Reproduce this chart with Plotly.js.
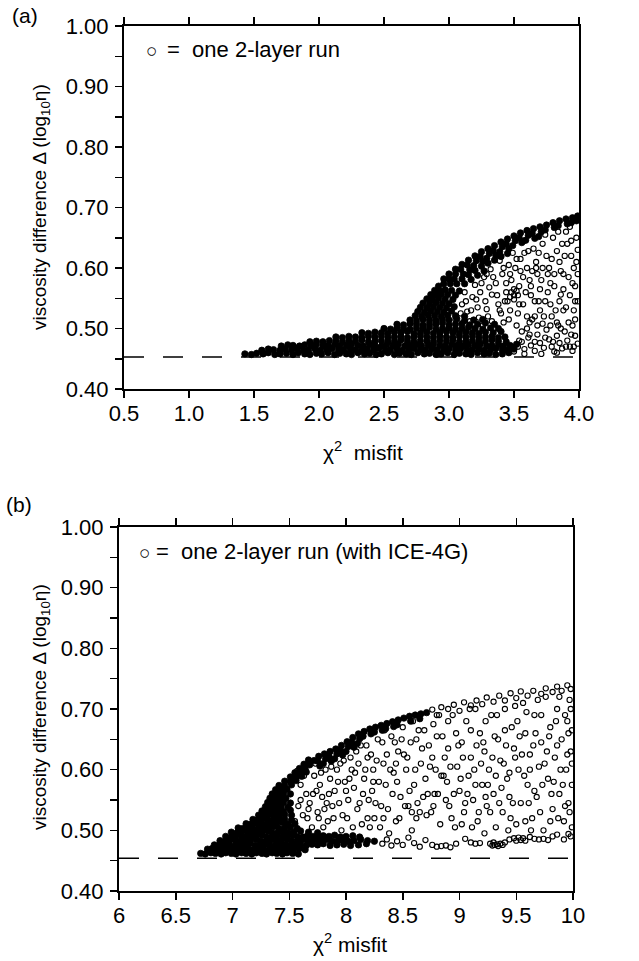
<!DOCTYPE html>
<html>
<head>
<meta charset="utf-8">
<script src="https://cdn.plot.ly/plotly-3.0.1.min.js"></script>
<style>
html,body{margin:0;padding:0;background:#fff;}
#chart{width:639px;height:961px;}
</style>
</head>
<body>
<div id="chart"></div>
<script>
// ---------------- DATA ----------------
// Panel (a): chi^2 misfit vs viscosity difference, one 2-layer run per circle
// densely packed runs (dark mass)
const aDense = [
[1.43,.458],[1.48,.457],[1.52,.459],[1.57,.458],[1.61,.460],[1.66,.457],[1.70,.458],[1.75,.459],[1.80,.457],[1.84,.460],[1.89,.458],[1.93,.457],[1.98,.459],[2.02,.458],[2.07,.460],[2.12,.457],[2.16,.459],[2.21,.458],[2.25,.457],[2.30,.460],[2.35,.458],[2.39,.459],[2.44,.457],[2.48,.458],[2.53,.460],[2.58,.457],[2.62,.459],[2.67,.458],[2.71,.457],[2.76,.460],[2.81,.458],[2.85,.459],[2.90,.457],[2.94,.458],[2.99,.460],[3.04,.457],[3.08,.459],[3.13,.458],[3.17,.457],[3.22,.460],[3.27,.458],[3.31,.459],[3.36,.457],[3.41,.458],[3.46,.460],
[1.56,.464],[1.61,.466],[1.65,.465],[1.70,.464],[1.74,.466],[1.79,.465],[1.83,.467],[1.88,.464],[1.92,.465],[1.97,.466],[2.01,.464],[2.06,.465],[2.10,.467],[2.15,.465],[2.19,.464],[2.24,.466],[2.28,.465],[2.33,.464],[2.37,.466],[2.42,.465],[2.46,.467],[2.51,.464],[2.55,.465],[2.60,.466],[2.64,.464],[2.69,.465],[2.73,.467],[2.78,.465],[2.82,.464],[2.87,.466],[2.91,.465],[2.96,.464],[3.00,.466],[3.05,.465],[3.09,.467],[3.14,.464],[3.18,.465],[3.23,.466],[3.27,.464],[3.32,.465],[3.36,.467],[3.41,.465],[3.45,.464],[3.50,.466],
[1.71,.471],[1.76,.473],[1.80,.472],[1.85,.471],[1.89,.473],[1.94,.472],[1.98,.474],[2.03,.471],[2.07,.472],[2.12,.473],[2.16,.471],[2.21,.472],[2.25,.474],[2.30,.472],[2.34,.471],[2.39,.473],[2.43,.472],[2.48,.471],[2.52,.473],[2.57,.472],[2.61,.474],[2.66,.471],[2.70,.472],[2.75,.473],[2.79,.471],[2.84,.472],[2.88,.474],[2.93,.472],[2.97,.471],[3.02,.473],[3.06,.472],[3.11,.471],[3.15,.473],[3.20,.472],[3.24,.474],[3.29,.471],[3.33,.472],[3.38,.473],[3.42,.471],[3.47,.472],[3.52,.474],
[1.93,.478],[1.98,.479],[2.03,.478],[2.08,.480],[2.13,.479],[2.18,.478],[2.23,.480],[2.28,.479],[2.33,.481],[2.38,.478],[2.43,.479],[2.48,.480],[2.53,.478],[2.58,.479],[2.63,.481],[2.68,.479],[2.73,.478],[2.78,.480],[2.83,.479],[2.88,.478],[2.93,.480],[2.98,.479],[3.03,.481],[3.08,.478],[3.13,.479],[3.18,.480],[3.23,.478],[3.28,.479],[3.33,.481],[3.38,.479],[3.44,.478],
[2.13,.486],[2.18,.485],[2.23,.487],[2.28,.486],[2.33,.485],[2.38,.487],[2.43,.486],[2.48,.488],[2.53,.485],[2.58,.486],[2.63,.487],[2.68,.485],[2.73,.486],[2.78,.488],[2.83,.486],[2.88,.485],[2.93,.487],[2.98,.486],[3.03,.485],[3.08,.487],[3.13,.486],[3.18,.488],[3.23,.485],[3.28,.486],[3.33,.487],[3.38,.485],[3.43,.486],
[2.33,.493],[2.38,.492],[2.43,.494],[2.48,.493],[2.53,.492],[2.58,.494],[2.63,.493],[2.68,.495],[2.73,.492],[2.78,.493],[2.83,.494],[2.88,.492],[2.93,.493],[2.98,.495],[3.03,.493],[3.08,.492],[3.13,.494],[3.18,.493],[3.23,.492],[3.28,.494],[3.34,.493],[3.40,.495],
[2.50,.500],[2.55,.499],[2.60,.501],[2.65,.500],[2.70,.499],[2.75,.501],[2.80,.500],[2.85,.502],[2.90,.499],[2.95,.500],[3.00,.501],[3.05,.499],[3.10,.500],[3.15,.502],[3.20,.500],[3.26,.499],[3.32,.501],[3.38,.500],
[2.60,.507],[2.65,.506],[2.70,.508],[2.75,.507],[2.80,.506],[2.85,.508],[2.90,.507],[2.95,.509],[3.00,.506],[3.05,.507],[3.10,.508],[3.16,.506],[3.22,.507],[3.28,.509],[3.35,.507],
[2.70,.514],[2.75,.513],[2.80,.515],[2.85,.514],[2.90,.513],[2.95,.515],[3.00,.514],[3.06,.516],[3.12,.513],[3.19,.514],[3.26,.515],
[2.74,.521],[2.79,.520],[2.84,.522],[2.89,.521],[2.94,.520],[2.99,.522],[3.05,.521],[3.12,.520],
[2.76,.528],[2.81,.527],[2.86,.529],[2.91,.528],[2.96,.527],[3.02,.529],
[2.78,.535],[2.83,.534],[2.88,.536],[2.93,.535],[2.98,.534],[3.04,.536],
[2.80,.542],[2.85,.541],[2.90,.543],[2.95,.542],[3.00,.541],
[2.83,.549],[2.87,.548],[2.92,.550],[2.97,.549],[3.03,.548],
[2.86,.556],[2.90,.555],[2.94,.557],[2.99,.556],[3.05,.555],
[2.89,.563],[2.93,.562],[2.97,.564],[3.02,.563],[3.08,.562],
[2.92,.570],[2.96,.582],[2.96,.574],[3.00,.590],[3.00,.582],[3.01,.574],
[3.05,.598],[3.05,.590],[3.04,.582],[3.06,.574],
[3.10,.606],[3.09,.598],[3.11,.590],[3.10,.582],[3.12,.574],
[3.15,.613],[3.14,.605],[3.16,.597],[3.15,.589],[3.17,.581],
[3.20,.620],[3.21,.612],[3.19,.604],[3.20,.596],[3.22,.588],
[3.25,.627],[3.24,.619],[3.26,.611],[3.25,.603],[3.27,.595],
[3.30,.632],[3.31,.624],[3.29,.616],[3.30,.608],
[3.35,.637],[3.34,.629],[3.36,.621],[3.35,.613],
[3.40,.643],[3.41,.635],[3.39,.627],[3.40,.619],
[3.45,.648],[3.44,.640],[3.46,.632],[3.45,.624],
[3.50,.653],[3.51,.645],[3.49,.637],
[3.55,.658],[3.54,.650],[3.56,.642],
[3.60,.662],[3.61,.654],[3.59,.646],
[3.65,.665],[3.64,.657],[3.66,.649],
[3.70,.668],[3.71,.660],[3.69,.652],
[3.75,.671],[3.74,.663],
[3.80,.675],[3.81,.667],
[3.85,.678],[3.84,.670],
[3.90,.681],[3.91,.673],
[3.95,.683],[3.94,.675],
[3.99,.686],[3.98,.678]
];
// loosely scattered runs
const aSparse = [
[3.10,.540],[3.14,.528],[3.18,.552],[3.22,.535],[3.16,.512],[3.24,.560],[3.28,.545],[3.20,.572],[3.30,.520],[3.33,.556],[3.27,.585],[3.36,.575],[3.38,.540],[3.32,.598],[3.41,.590],[3.44,.560],[3.40,.525],[3.46,.605],[3.48,.580],[3.50,.548],[3.52,.615],[3.47,.530],[3.55,.595],[3.54,.570],[3.58,.625],[3.60,.600],[3.57,.540],[3.62,.580],[3.63,.555],[3.65,.632],[3.67,.610],[3.68,.590],[3.70,.565],[3.66,.520],[3.72,.640],[3.74,.545],[3.75,.620],[3.77,.600],[3.78,.575],[3.80,.650],[3.82,.530],[3.83,.628],[3.85,.610],[3.86,.556],[3.88,.590],[3.90,.660],[3.91,.640],[3.92,.510],[3.94,.620],[3.95,.575],[3.96,.600],[3.97,.545],[3.98,.650],[3.99,.630],[3.93,.668],
[3.50,.462],[3.53,.470],[3.56,.478],[3.58,.466],[3.61,.485],[3.63,.472],[3.66,.463],[3.68,.490],[3.70,.476],[3.73,.468],[3.75,.498],[3.77,.482],[3.79,.470],[3.81,.462],[3.83,.488],[3.85,.476],[3.87,.467],[3.89,.495],[3.91,.480],[3.93,.470],[3.95,.463],[3.97,.488],[3.99,.475],[3.60,.500],[3.72,.508],[3.84,.505],[3.64,.515],[3.56,.495],[3.52,.505],[3.79,.520],[3.88,.530],[3.70,.530],[3.97,.515],
[3.12,.560],[3.26,.505],[3.35,.500],[3.42,.510],[3.45,.545],[3.53,.525],[3.59,.560],[3.62,.510],[3.69,.545],[3.76,.560],[3.81,.590],[3.87,.640],[3.72,.600],[3.64,.595],[3.58,.645],[3.49,.625],[3.39,.612],[3.31,.568],[3.44,.575],[3.53,.555],[3.85,.545],[3.93,.555],[3.99,.590],[3.96,.530],[3.78,.505],[3.68,.505],
[3.05,.515],[3.09,.525],[3.13,.545],[3.17,.530],[3.21,.548],[3.23,.518],[3.25,.575],[3.29,.532],[3.29,.590],[3.33,.512],[3.34,.585],[3.37,.555],[3.39,.530],[3.42,.600],[3.43,.545],[3.46,.515],[3.47,.590],[3.50,.565],[3.51,.600],[3.54,.540],[3.55,.615],[3.57,.585],[3.60,.520],[3.61,.628],[3.63,.570],[3.66,.545],[3.67,.600],[3.69,.625],[3.71,.580],[3.73,.520],[3.74,.655],[3.76,.590],[3.78,.540],[3.79,.615],[3.81,.570],[3.83,.510],[3.84,.660],[3.86,.595],[3.88,.565],[3.89,.620],[3.90,.535],[3.92,.585],[3.94,.645],[3.95,.505],[3.97,.570],[3.98,.610],[3.99,.545],[3.62,.490],[3.74,.485],[3.86,.500],[3.94,.490],[3.54,.480],[3.66,.478],[3.80,.478],[3.90,.470],[3.48,.470],[3.58,.458],[3.71,.458],[3.83,.460],[3.96,.470],
[3.48,.560],[3.50,.555],[3.52,.562],[3.47,.552]
];
const aTicksX = [0.5, 1.0, 1.5, 2.0, 2.5, 3.0, 3.5, 4.0];
const aTickTextX = ['0.5','1.0','1.5','2.0','2.5','3.0','3.5','4.0'];

// Panel (b): chi^2 misfit vs viscosity difference, with ICE-4G
const bDense = [
[6.72,.462],[6.76,.461],[6.81,.463],[6.85,.462],[6.90,.461],[6.94,.463],[6.99,.462],[7.03,.461],[7.08,.463],[7.12,.462],[7.17,.461],[7.21,.463],[7.26,.462],[7.30,.461],[7.35,.463],[7.39,.462],[7.44,.461],[7.48,.463],[7.53,.462],[7.58,.461],
[6.78,.469],[6.82,.470],[6.87,.468],[6.91,.469],[6.96,.470],[7.00,.468],[7.05,.469],[7.09,.471],[7.14,.469],[7.18,.468],[7.23,.470],[7.27,.469],[7.32,.468],[7.36,.470],[7.41,.469],[7.45,.471],[7.50,.468],[7.54,.469],[7.59,.470],[7.64,.468],
[6.84,.476],[6.88,.475],[6.93,.477],[6.97,.476],[7.02,.475],[7.06,.477],[7.11,.476],[7.15,.478],[7.20,.475],[7.24,.476],[7.29,.477],[7.33,.475],[7.38,.476],[7.42,.478],[7.47,.476],[7.51,.475],[7.56,.477],[7.60,.476],[7.65,.475],[7.70,.477],[7.75,.476],[7.80,.478],[7.86,.475],[7.92,.476],[7.98,.477],[8.04,.475],[8.11,.476],[8.18,.478],
[6.89,.483],[6.94,.482],[6.98,.484],[7.03,.483],[7.07,.482],[7.12,.484],[7.16,.483],[7.21,.485],[7.25,.482],[7.30,.483],[7.34,.484],[7.39,.482],[7.43,.483],[7.48,.485],[7.52,.483],[7.57,.482],[7.61,.484],[7.66,.483],[7.70,.482],[7.75,.484],[7.79,.483],[7.84,.485],[7.88,.482],[7.93,.483],[7.97,.484],[8.02,.482],[8.07,.483],[8.13,.485],[8.19,.483],[8.25,.482],
[6.94,.490],[6.99,.489],[7.03,.491],[7.08,.490],[7.12,.489],[7.17,.491],[7.21,.490],[7.26,.492],[7.30,.489],[7.35,.490],[7.39,.491],[7.44,.489],[7.48,.490],[7.53,.492],[7.57,.490],[7.62,.489],[7.66,.491],[7.71,.490],[7.75,.489],[7.80,.491],[7.85,.490],[7.90,.492],[7.95,.489],[8.00,.490],[8.06,.491],[8.12,.489],
[6.99,.497],[7.04,.496],[7.08,.498],[7.13,.497],[7.17,.496],[7.22,.498],[7.26,.497],[7.31,.499],[7.35,.496],[7.40,.497],[7.44,.498],[7.49,.496],[7.54,.497],[7.60,.499],[7.67,.497],[7.75,.496],
[7.05,.504],[7.09,.503],[7.14,.505],[7.18,.504],[7.23,.503],[7.27,.505],[7.32,.504],[7.36,.506],[7.41,.503],[7.46,.504],[7.51,.505],[7.57,.503],
[7.12,.511],[7.16,.510],[7.21,.512],[7.25,.511],[7.30,.510],[7.34,.512],[7.39,.511],[7.44,.513],[7.49,.510],[7.55,.511],
[7.18,.518],[7.22,.517],[7.27,.519],[7.31,.518],[7.36,.517],[7.41,.519],[7.46,.518],[7.52,.517],
[7.23,.525],[7.27,.524],[7.32,.526],[7.36,.525],[7.41,.524],[7.46,.526],[7.52,.525],
[7.26,.532],[7.30,.531],[7.35,.533],[7.40,.532],[7.45,.531],[7.51,.533],
[7.29,.539],[7.33,.538],[7.38,.540],[7.43,.539],[7.49,.538],
[7.31,.546],[7.35,.545],[7.40,.547],[7.45,.546],[7.51,.545],
[7.33,.553],[7.37,.552],[7.42,.554],[7.47,.553],
[7.35,.560],[7.40,.559],[7.45,.561],[7.51,.560],
[7.38,.567],[7.43,.566],[7.48,.568],
[7.41,.574],[7.46,.573],[7.52,.575],
[7.46,.581],[7.51,.580],[7.56,.582],
[7.51,.588],[7.56,.587],[7.61,.589],
[7.55,.595],[7.60,.594],[7.65,.596],
[7.59,.602],[7.64,.601],
[7.63,.609],[7.68,.608],
[7.67,.616],[7.72,.615],
[7.76,.622],[7.75,.614],[7.77,.606],
[7.81,.626],[7.82,.618],[7.80,.610],
[7.86,.630],[7.85,.622],[7.87,.614],
[7.91,.634],[7.92,.626],[7.90,.618],
[7.96,.640],[7.95,.632],[7.97,.624],
[8.01,.646],[8.02,.638],[8.00,.630],
[8.06,.653],[8.05,.645],[8.07,.637],
[8.11,.659],[8.12,.651],[8.10,.643],
[8.16,.663],[8.15,.655],
[8.21,.667],[8.22,.659],
[8.26,.670],[8.25,.662],
[8.31,.673],[8.32,.665],
[8.36,.676],[8.35,.668],
[8.41,.679],[8.42,.671],
[8.46,.682],[8.45,.674],
[8.51,.685],
[8.56,.688],[8.57,.680],
[8.61,.690],
[8.66,.692],[8.65,.684],
[8.71,.694]
];
const bSparse = [
[7.55,.515],[7.58,.540],[7.62,.525],[7.65,.560],[7.68,.545],[7.60,.575],[7.72,.590],[7.70,.505],
[7.75,.530],[7.77,.575],[7.79,.555],[7.82,.600],[7.84,.515],[7.86,.585],[7.88,.540],[7.90,.565],[7.80,.505],
[7.95,.610],[7.97,.525],[7.99,.580],[8.02,.550],[8.04,.620],[8.06,.505],[8.08,.595],[8.10,.535],[8.00,.565],
[8.13,.640],[8.15,.560],[8.17,.600],[8.19,.520],[8.22,.625],[8.24,.580],[8.26,.545],[8.28,.650],[8.30,.505],[8.21,.505],
[8.33,.610],[8.35,.575],[8.37,.535],[8.40,.655],[8.42,.595],[8.44,.515],[8.46,.630],[8.48,.555],[8.50,.670],[8.38,.495],
[8.53,.600],[8.55,.540],[8.57,.645],[8.60,.575],[8.62,.520],[8.64,.665],[8.66,.610],[8.68,.555],[8.70,.585],[8.58,.500],
[8.73,.640],[8.75,.530],[8.77,.675],[8.79,.600],[8.81,.560],[8.83,.510],[8.85,.655],[8.87,.620],[8.89,.580],[8.91,.540],
[8.94,.690],[8.96,.505],[8.98,.605],[9.00,.565],[9.02,.645],[9.04,.530],[9.06,.680],[9.08,.590],[9.10,.620],[9.12,.550],
[9.14,.700],[9.16,.515],[9.18,.660],[9.20,.575],[9.22,.630],[9.24,.540],[9.26,.600],[9.28,.690],[9.30,.560],[9.32,.505],
[9.34,.650],[9.36,.615],[9.38,.530],[9.40,.700],[9.42,.585],[9.44,.555],[9.46,.670],[9.48,.635],[9.50,.510],[9.52,.600],
[9.54,.545],[9.56,.710],[9.58,.660],[9.60,.575],[9.62,.625],[9.64,.520],[9.66,.690],[9.68,.555],[9.70,.605],[9.72,.645],
[9.74,.500],[9.76,.720],[9.78,.585],[9.80,.670],[9.82,.535],[9.84,.620],[9.86,.700],[9.88,.560],[9.90,.650],[9.92,.515],
[9.94,.600],[9.95,.680],[9.96,.545],[9.97,.715],[9.98,.630],[9.99,.575],[9.99,.505],
[7.57,.598],[7.66,.520],[7.74,.565],[7.83,.545],[7.92,.600],[7.96,.500],[8.03,.585],[8.11,.610],[8.14,.510],[8.18,.640],[8.23,.565],[8.27,.615],[8.31,.540],[8.34,.665],[8.39,.600],[8.43,.645],[8.47,.520],[8.51,.625],[8.56,.565],[8.59,.680],[8.63,.545],[8.67,.635],[8.71,.525],[8.74,.605],[8.78,.560],[8.82,.690],[8.86,.590],[8.90,.635],[8.93,.520],[8.97,.660],[9.01,.585],[9.05,.545],[9.09,.700],[9.13,.600],[9.17,.530],[9.21,.645],[9.25,.575],[9.29,.620],[9.33,.690],[9.37,.570],[9.41,.640],[9.45,.520],[9.49,.705],[9.53,.655],[9.57,.590],[9.61,.545],[9.65,.640],[9.69,.715],[9.73,.575],[9.77,.630],[9.81,.560],[9.85,.680],[9.89,.600],[9.93,.540],[9.96,.660],[9.98,.700],[9.87,.520],[9.63,.500],[9.43,.500],[9.11,.505],
[7.60,.550],[7.63,.590],[7.67,.535],[7.71,.560],[7.73,.610],[7.76,.520],[7.78,.595],[7.81,.535],[7.85,.560],[7.87,.605],[7.89,.520],[7.93,.580],[7.94,.545],[7.98,.615],[8.01,.520],[8.05,.600],[8.07,.570],[8.09,.630],[8.12,.545],[8.16,.585],[8.19,.620],[8.20,.550],[8.24,.600],[8.25,.520],[8.29,.580],[8.32,.645],[8.33,.520],[8.36,.625],[8.41,.560],[8.44,.610],[8.45,.580],[8.49,.650],[8.52,.540],[8.54,.620],[8.58,.530],[8.61,.600],[8.62,.650],[8.65,.530],[8.69,.665],[8.72,.560],[8.76,.620],[8.77,.540],[8.80,.655],[8.84,.590],[8.88,.550],[8.90,.680],[8.92,.605],[8.95,.560],[8.99,.640],[9.02,.510],[9.03,.620],[9.07,.560],[9.10,.665],[9.14,.575],[9.15,.640],[9.19,.610],[9.23,.555],[9.23,.680],[9.27,.530],[9.31,.655],[9.32,.590],[9.35,.545],[9.39,.610],[9.40,.665],[9.44,.595],[9.47,.545],[9.49,.620],[9.51,.680],[9.55,.625],[9.58,.515],[9.59,.695],[9.62,.600],[9.66,.565],[9.67,.660],[9.71,.530],[9.72,.690],[9.75,.610],[9.79,.655],[9.80,.515],[9.83,.580],[9.86,.640],[9.88,.720],[9.91,.575],[9.93,.690],[9.95,.625],[9.97,.530],[9.99,.665],[9.99,.610],
[8.76,.699],[8.80,.690],[8.84,.703],[8.90,.700],[8.95,.707],[9.00,.697],[9.04,.711],[9.10,.706],[9.15,.714],[9.20,.708],[9.24,.719],[9.30,.712],[9.35,.722],[9.40,.714],[9.45,.726],[9.50,.718],[9.54,.729],[9.60,.722],[9.65,.730],[9.72,.725],[9.76,.734],[9.82,.728],[9.86,.737],[9.90,.730],[9.95,.739],[9.98,.733],
[8.32,.478],[8.36,.485],[8.40,.475],[8.45,.482],[8.50,.476],[8.55,.488],[8.60,.479],[8.65,.473],[8.70,.484],[8.76,.476],[8.80,.473],[8.84,.474],[8.88,.475],[8.92,.472],[8.97,.478],[9.05,.486],[9.10,.480],[9.14,.478],[9.18,.479],[9.22,.495],[9.27,.478],[9.29,.475],[9.30,.480],[9.31,.476],[9.33,.477],[9.34,.474],[9.36,.478],[9.38,.476],[9.40,.480],[9.44,.485],[9.48,.487],[9.50,.483],[9.52,.488],[9.54,.484],[9.56,.487],[9.58,.483],[9.62,.489],[9.66,.486],[9.70,.485],[9.74,.486],[9.78,.484],[9.82,.490],[9.86,.493],[9.92,.485],[9.96,.494],[9.98,.490]
];
const bTicksX = [6, 6.5, 7, 7.5, 8, 8.5, 9, 9.5, 10];
const bTickTextX = ['6','6.5','7','7.5','8','8.5','9','9.5','10'];

// shared y axis ticks and the dashed reference level
const yTicks = [0.40, 0.50, 0.60, 0.70, 0.80, 0.90, 1.00];
const yTickText = ['0.40','0.50','0.60','0.70','0.80','0.90','1.00'];
const yMinorTicks = [0.45, 0.55, 0.65, 0.75, 0.85, 0.95];
const aDashLevel = 0.453;
const bDashLevel = 0.454;
const aRangeX = [0.5, 4.0];
const bRangeX = [6, 10];
const rangeY = [0.4, 1.0];

// ---------------- PLOT ----------------
const W = 639, H = 961;
const FONT = '"Liberation Sans", Arial, Helvetica, sans-serif';
const px = v => v / W;
const py = v => 1 - v / H;

function pts(arr, i) { return arr.map(p => p[i]); }

// overlapping circles in the crowded parts merge into a dark mass
const denseMarker = {symbol: 'circle', size: 6.4, color: '#000', line: {width: 0.8, color: '#000'}};
const sparseMarker = {symbol: 'circle-open', size: 5.2, color: '#000', line: {width: 1.1, color: '#000'}};

const traces = [
  {type: 'scatter', mode: 'markers', x: pts(aDense,0), y: pts(aDense,1), xaxis: 'x', yaxis: 'y', marker: denseMarker, hoverinfo: 'skip', showlegend: false},
  {type: 'scatter', mode: 'markers', x: pts(aSparse,0), y: pts(aSparse,1), xaxis: 'x', yaxis: 'y', marker: sparseMarker, hoverinfo: 'skip', showlegend: false},
  {type: 'scatter', mode: 'markers', x: pts(bDense,0), y: pts(bDense,1), xaxis: 'x2', yaxis: 'y2', marker: denseMarker, hoverinfo: 'skip', showlegend: false},
  {type: 'scatter', mode: 'markers', x: pts(bSparse,0), y: pts(bSparse,1), xaxis: 'x2', yaxis: 'y2', marker: sparseMarker, hoverinfo: 'skip', showlegend: false}
];

const tickFont = {family: FONT, size: 22, color: '#000'};
function xAxis(domain, anchor, range, vals, text) {
  return {domain: domain, anchor: anchor, range: range, tickmode: 'array', tickvals: vals, ticktext: text,
    showline: true, linewidth: 2, linecolor: '#000', mirror: 'ticks', ticks: 'outside', ticklen: 7, tickwidth: 1.5, tickcolor: '#000',
    showgrid: false, zeroline: false, tickfont: tickFont, fixedrange: true, ticklabelstandoff: -3};
}
function yAxis(domain, anchor, side, overlaying) {
  const ax = {anchor: anchor, range: rangeY, tickmode: 'array', tickvals: yTicks, ticktext: yTickText,
    minor: {tickmode: 'array', tickvals: yMinorTicks, ticks: 'outside', ticklen: 7, tickwidth: 1.5, tickcolor: '#000', showgrid: false},
    ticks: 'outside', ticklen: 7, tickwidth: 1.5, tickcolor: '#000', showgrid: false, zeroline: false, tickfont: tickFont,
    side: side, fixedrange: true, ticklabelstandoff: 2};
  if (overlaying) { ax.overlaying = overlaying; ax.showline = false; }
  else { ax.domain = domain; ax.showline = true; ax.linewidth = 2; ax.linecolor = '#000'; ax.mirror = true; }
  return ax;
}

const aDomX = [px(124), px(579)], aDomY = [py(389), py(26)];
const bDomX = [px(119), px(573)], bDomY = [py(891), py(527)];

const titleFont = {family: FONT, size: 21, color: '#000'};
const ytitleFont = {family: FONT, size: 19, color: '#000'};
const ytitle = 'viscosity difference Δ (log<sub>10</sub>η)';

const layout = {
  width: W, height: H,
  margin: {l: 0, r: 0, t: 0, b: 0, pad: 0},
  paper_bgcolor: '#fff', plot_bgcolor: '#fff',
  showlegend: false,
  font: {family: FONT, color: '#000'},
  xaxis: xAxis(aDomX, 'y', aRangeX, aTicksX, aTickTextX),
  yaxis: yAxis(aDomY, 'x', 'left', null),
  yaxis3: yAxis(aDomY, 'x', 'right', 'y'),
  xaxis2: xAxis(bDomX, 'y2', bRangeX, bTicksX, bTickTextX),
  yaxis2: yAxis(bDomY, 'x2', 'left', null),
  yaxis4: yAxis(bDomY, 'x2', 'right', 'y2'),
  shapes: [
    {type: 'line', xref: 'x domain', yref: 'y', x0: 0, x1: 1, y0: aDashLevel, y1: aDashLevel, layer: 'below', line: {color: '#000', width: 1.6, dash: '20px,19px'}},
    {type: 'line', xref: 'x2 domain', yref: 'y2', x0: 0, x1: 1, y0: bDashLevel, y1: bDashLevel, layer: 'below', line: {color: '#000', width: 1.6, dash: '20px,19px'}}
  ],
  annotations: [
    {xref: 'paper', yref: 'paper', x: px(10), y: py(16), xanchor: 'left', yanchor: 'middle', text: '(a)', showarrow: false, font: titleFont},
    {xref: 'paper', yref: 'paper', x: px(4), y: py(505), xanchor: 'left', yanchor: 'middle', text: '(b)', showarrow: false, font: titleFont},
    // legends (symbol + text)
    {xref: 'paper', yref: 'paper', x: px(151.5), y: py(51), xanchor: 'center', yanchor: 'middle', text: '○', showarrow: false, font: {family: FONT, size: 19, color: '#000'}},
    {xref: 'paper', yref: 'paper', x: px(165), y: py(50), xanchor: 'left', yanchor: 'middle', text: '=  one 2-layer run', showarrow: false, font: {family: FONT, size: 22, color: '#000'}},
    {xref: 'paper', yref: 'paper', x: px(144), y: py(552), xanchor: 'center', yanchor: 'middle', text: '○', showarrow: false, font: {family: FONT, size: 19, color: '#000'}},
    {xref: 'paper', yref: 'paper', x: px(154), y: py(551), xanchor: 'left', yanchor: 'middle', text: '=  one 2-layer run (with ICE-4G)', showarrow: false, font: {family: FONT, size: 22, color: '#000'}},
    // axis titles
    {xref: 'paper', yref: 'paper', x: px(363), y: py(451), xanchor: 'center', yanchor: 'middle', text: 'χ<sup>2</sup>  misfit', showarrow: false, font: titleFont},
    {xref: 'paper', yref: 'paper', x: px(350), y: py(943), xanchor: 'center', yanchor: 'middle', text: 'χ<sup>2</sup> misfit', showarrow: false, font: titleFont},
    {xref: 'paper', yref: 'paper', x: px(41), y: py(207), xanchor: 'center', yanchor: 'middle', textangle: -90, text: ytitle, showarrow: false, font: ytitleFont},
    {xref: 'paper', yref: 'paper', x: px(41), y: py(707), xanchor: 'center', yanchor: 'middle', textangle: -90, text: ytitle, showarrow: false, font: ytitleFont}
  ]
};

Plotly.newPlot('chart', traces, layout, {staticPlot: true, displayModeBar: false});
</script>
</body>
</html>
